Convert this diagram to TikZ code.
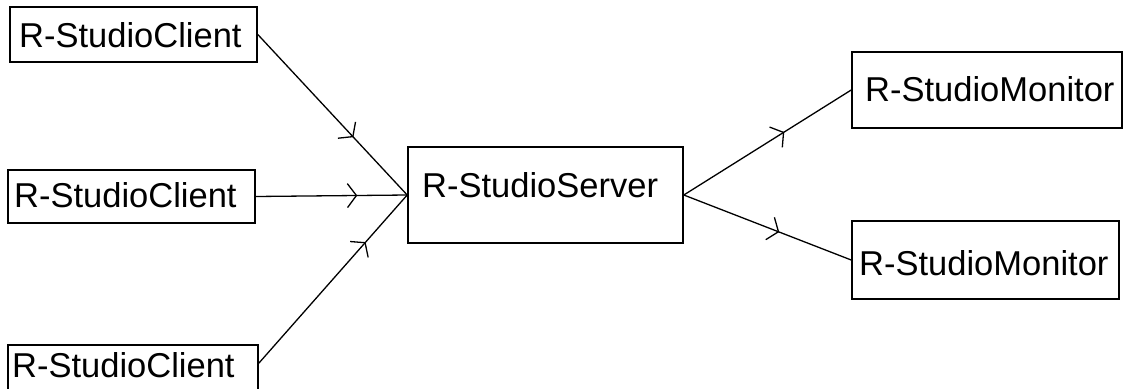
\documentclass[tikz,border=0pt]{standalone}
\usepackage{fontspec}
\setmainfont{Liberation Sans}
\usetikzlibrary{arrows.meta,decorations.markings,calc}
\begin{document}
\begin{tikzpicture}[x=1pt,y=-1pt,
  box/.style={draw, line width=1.6pt, inner sep=0pt, rectangle},
  lbl/.style={inner sep=0pt, anchor=base west, font=\fontsize{34.5}{40}\selectfont},
  conn/.style={line width=1.3pt},
  midarrow/.style={postaction={decorate}, decoration={markings,
     mark=at position #1 with {\arrow{Straight Barb[length=9pt,width=24pt,line width=1.3pt]}}}}
]
\fill[white] (0,0) rectangle (1126,388);
\useasboundingbox (0,0) rectangle (1126,388);

% boxes
\node[box, minimum width=247pt, minimum height=55pt] (c1) at (133.5,34.5) {};
\node[box, minimum width=247pt, minimum height=53pt] (c2) at (131.5,196.5) {};
\node[box, minimum width=250pt, minimum height=55pt] (c3) at (133,372.5) {};
\node[box, minimum width=275pt, minimum height=96pt] (s) at (545.5,195) {};
\node[box, minimum width=270pt, minimum height=76pt] (m1) at (987,90) {};
\node[box, minimum width=267pt, minimum height=78pt] (m2) at (985.5,260) {};

% labels
\node[lbl] (t1) at (19,47) {R-StudioClient};
\node[lbl] (t2) at (14,207) {R-StudioClient};
\node[lbl] (t3) at (12,377) {R-StudioClient};
\node[lbl] (ts) at (422,197) {R-StudioServer};
\node[lbl] (tm1) at (865,101) {R-StudioMonitor};
\node[lbl] (tm2) at (859,275) {R-StudioMonitor};

\coordinate (c3out) at ($(c3.north east)+(0,19)$);

% connectors
\draw[conn, midarrow=0.64] (c1.east) -- (s.west);
\draw[conn, midarrow=0.67] (c2.east) -- (s.west);
\draw[conn, midarrow=0.72] (c3out) -- (s.west);
\draw[conn, midarrow=0.60] (s.east) -- (m1.west);
\draw[conn, midarrow=0.57] (s.east) -- (m2.west);
\end{tikzpicture}
\end{document}
